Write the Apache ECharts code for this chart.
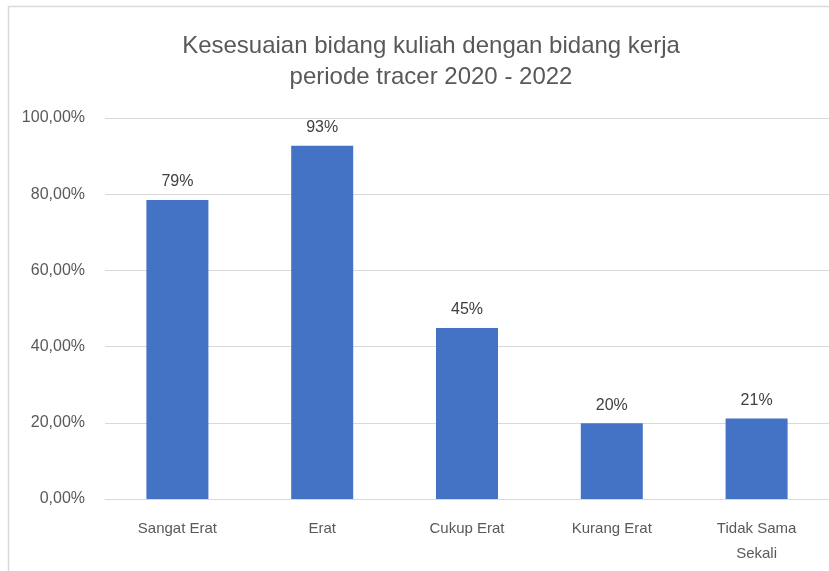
<!DOCTYPE html>
<html>
<head>
<meta charset="utf-8">
<script src="https://cdn.jsdelivr.net/npm/echarts@6/dist/echarts.min.js"></script>
<style>
  html, body { margin: 0; padding: 0; background: #fff; }
  #main { width: 829px; height: 571px; }
</style>
</head>
<body>
<div id="main"></div>
<script>
// categories and values (percent)
const categories = ["Sangat Erat", "Erat", "Cukup Erat", "Kurang Erat", "Tidak Sama\nSekali"];
const values = [78.5, 92.7, 44.9, 19.9, 21.1];
const yTicks = [0, 20, 40, 60, 80, 100];
const titleLines = ["Kesesuaian bidang kuliah dengan bidang kerja", "periode tracer 2020 - 2022"];

const fontFamily = "'Liberation Sans', Arial, sans-serif";
const myChart = echarts.init(document.getElementById("main"));

const option = {
    animation: false,
    textStyle: { fontFamily: fontFamily },
    graphic: [
        {
            // chart frame
            type: "rect",
            shape: { x: 8.5, y: 6.5, width: 900, height: 700 },
            style: { fill: "none", stroke: "#d9d9d9", lineWidth: 1.5 },
            silent: true
        },
        {
            type: "text",
            x: 431,
            y: 31,
            style: {
                text: titleLines.join("\n"),
                textAlign: "center",
                fill: "#595959",
                fontSize: 24,
                lineHeight: 31,
                fontFamily: fontFamily
            }
        }
    ],
    grid: {
        left: 105,
        right: 0,
        top: 118,
        bottom: 72
    },
    xAxis: {
        type: "category",
        data: categories,
        axisLine: { show: true, lineStyle: { color: "#d9d9d9", width: 1 } },
        axisTick: { show: false },
        axisLabel: {
            color: "#595959",
            fontSize: 15,
            margin: 17,
            lineHeight: 25,
            interval: 0
        }
    },
    yAxis: {
        type: "value",
        min: yTicks[0],
        max: yTicks[yTicks.length - 1],
        interval: 20,
        axisLine: { show: false },
        axisTick: { show: false },
        axisLabel: {
            color: "#595959",
            fontSize: 16,
            margin: 20,
            formatter: (v) => v.toFixed(2).replace(".", ",") + "%"
        },
        splitLine: { lineStyle: { color: "#d9d9d9", width: 1 } }
    },
    series: [
        {
            type: "bar",
            data: values,
            barWidth: 62,
            itemStyle: { color: "#4472C4" },
            label: {
                show: true,
                position: "top",
                distance: 10,
                color: "#404040",
                fontSize: 16,
                formatter: (p) => Math.round(p.value) + "%"
            }
        }
    ]
};

myChart.setOption(option);
</script>
</body>
</html>
